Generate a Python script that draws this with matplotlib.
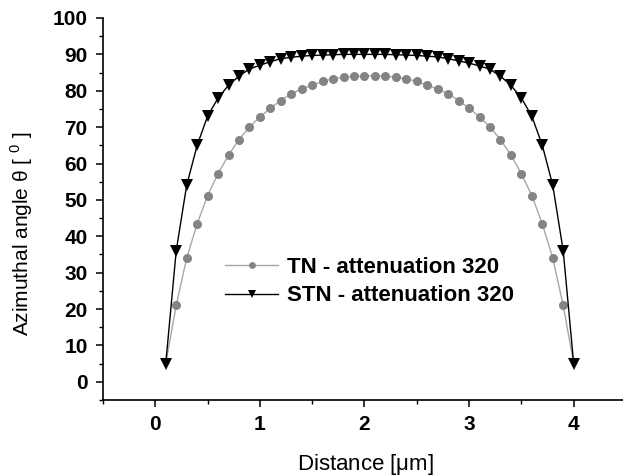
import matplotlib
matplotlib.use("Agg")
import matplotlib.pyplot as plt
from matplotlib.ticker import MultipleLocator

plt.rcParams['font.family'] = ['Liberation Sans', 'DejaVu Sans']

# ── DATA ────────────────────────────────────────────────────────────────
distance = [0.1, 0.2, 0.3, 0.4, 0.5, 0.6, 0.7, 0.8, 0.9, 1.0,
            1.1, 1.2, 1.3, 1.4, 1.5, 1.6, 1.7, 1.8, 1.9, 2.0,
            2.1, 2.2, 2.3, 2.4, 2.5, 2.6, 2.7, 2.8, 2.9, 3.0,
            3.1, 3.2, 3.3, 3.4, 3.5, 3.6, 3.7, 3.8, 3.9, 4.0]

tn_angle = [5, 21, 34, 43.4, 51.2, 57.2, 62.3, 66.6, 70, 72.8,
            75.2, 77.3, 79.2, 80.5, 81.5, 82.6, 83.3, 83.7, 84, 84.1,
            84.1, 84, 83.7, 83.3, 82.6, 81.5, 80.5, 79.2, 77.3, 75.2,
            72.8, 70, 66.6, 62.3, 57.2, 51.2, 43.4, 34, 21, 5]

stn_angle = [5, 36, 54, 65, 73, 78, 81.5, 84, 86, 87,
             88, 88.8, 89.2, 89.5, 89.7, 89.8, 89.9, 90, 90, 90,
             90, 90, 89.9, 89.8, 89.7, 89.5, 89.3, 88.8, 88.2, 87.6,
             86.8, 85.9, 84, 81.5, 78, 73, 65, 54, 36, 5]

labels = ["TN - attenuation 320", "STN - attenuation 320"]

# ── PLOT ────────────────────────────────────────────────────────────────
fig = plt.figure(figsize=(6.23, 4.76), dpi=100, facecolor='white')
ax = fig.add_axes([0.1653, 0.1597, 0.8395, 0.8025])

# end points of TN sit under the STN triangles
ax.plot(distance, tn_angle, color='#a8a8a8', lw=1.0, marker='o', ms=6.5,
        mfc='#848484', mec='#848484', mew=0, markevery=slice(1, -1),
        label=labels[0])
ax.plot(distance, stn_angle, color='black', lw=1.0, marker='v', ms=8.5,
        mfc='black', mec='black', mew=0, label=labels[1])

ax.set_xlim(-0.5, 4.5)
ax.set_ylim(-5, 100)
ax.xaxis.set_major_locator(MultipleLocator(1))
ax.xaxis.set_minor_locator(MultipleLocator(0.5))
ax.yaxis.set_major_locator(MultipleLocator(10))
ax.yaxis.set_minor_locator(MultipleLocator(5))

for side in ['top', 'right']:
    ax.spines[side].set_visible(False)
for side in ['left', 'bottom']:
    ax.spines[side].set_linewidth(1.2)

ax.tick_params(which='major', length=5, width=1.1, direction='out', pad=6)
ax.tick_params(which='minor', length=3, width=1.0, direction='out')
for t in ax.get_xticklabels() + ax.get_yticklabels():
    t.set_fontsize(15)
    t.set_fontweight('bold')

ax.set_xlabel(r"Distance [$\mathregular{\mu}$m]", fontsize=16)
ax.set_ylabel(r"Azimuthal angle θ [ $^{\mathregular{0}}$ ]", fontsize=15)
ax.xaxis.set_label_coords(0.501, -0.170)
ax.xaxis.label.set_va('center')
ax.yaxis.set_label_coords(-0.155, 0.435)
ax.yaxis.label.set_va('center')

leg = ax.legend(loc='upper left', bbox_to_anchor=(0.233, 0.375), frameon=False,
                borderpad=0, borderaxespad=0, handlelength=2.4,
                handletextpad=0.4, labelspacing=0.34, markerscale=0.75,
                prop={'size': 16, 'weight': 'bold'})

fig.savefig("out.png", dpi=100, facecolor='white')
